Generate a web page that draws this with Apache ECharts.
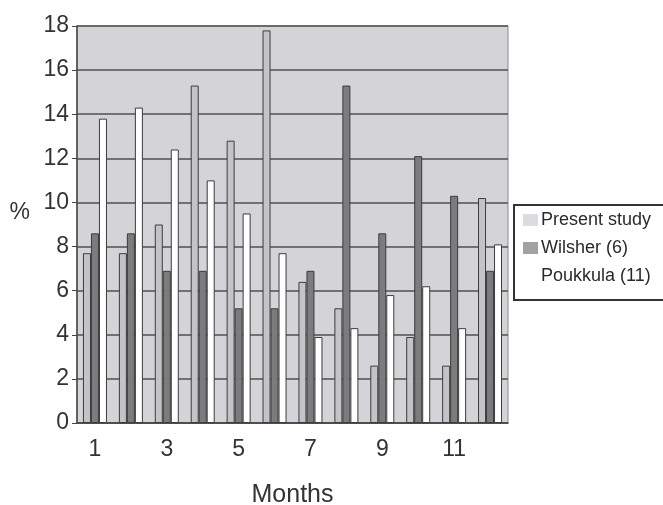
<!DOCTYPE html>
<html>
<head>
<meta charset="utf-8">
<script src="https://cdn.jsdelivr.net/npm/echarts@6/dist/echarts.min.js"></script>
<style>
  html, body { margin: 0; padding: 0; background: #fff; }
  #chart { width: 663px; height: 505px; }
</style>
</head>
<body>
<div id="chart"></div>
<script>
// Monthly percentages for each study
const months = ['1', '2', '3', '4', '5', '6', '7', '8', '9', '10', '11', '12'];
const presentStudy = [7.7, 7.7, 9.0, 15.3, 12.8, 17.8, 6.4, 5.2, 2.6, 3.9, 2.6, 10.2];
const wilsher = [8.6, 8.6, 6.9, 6.9, 5.2, 5.2, 6.9, 15.3, 8.6, 12.1, 10.3, 6.9];
const poukkula = [13.8, 14.3, 12.4, 11.0, 9.5, 7.7, 3.9, 4.3, 5.8, 6.2, 4.3, 8.1];
const yTicks = { min: 0, max: 18, step: 2 };

const seriesNames = ['Present study', 'Wilsher (6)', 'Poukkula (11)'];
const barColors = ['#c4c4c8', '#7c7c7e', '#ffffff'];
const swatchColors = ['#dcdce0', '#a2a2a4', '#ffffff'];
const seriesData = [presentStudy, wilsher, poukkula];

const font = 'Liberation Sans, Arial, sans-serif';
const chart = echarts.init(document.getElementById('chart'));

chart.setOption({
  animation: false,
  grid: {
    left: 77, right: 155, top: 26, bottom: 82,
    outerBoundsMode: 'none',
    containLabel: false,
    show: true,
    backgroundColor: '#d4d4d8',
    borderColor: '#8a8a8a',
    borderWidth: 1
  },
  legend: {
    orient: 'vertical',
    left: 514, top: 205,
    padding: [6, 40, 15, 9],
    itemGap: 10,
    itemWidth: 15,
    itemHeight: 12,
    borderColor: '#333',
    borderWidth: 2,
    textStyle: { fontFamily: font, fontSize: 18, color: '#2a2a2a', padding: [0, 0, 0, -2] },
    data: seriesNames.map((n, i) => ({
      name: n,
      icon: 'rect',
      itemStyle: { color: swatchColors[i], borderWidth: 0 }
    }))
  },
  xAxis: {
    type: 'category',
    data: months,
    name: 'Months',
    nameLocation: 'middle',
    nameGap: 60,
    nameTextStyle: { fontFamily: font, fontSize: 25, color: '#333' },
    axisLine: { lineStyle: { color: '#444', width: 1.5 } },
    axisTick: { length: 6, lineStyle: { color: '#444' } },
    axisLabel: { interval: 1, margin: 15, fontFamily: font, fontSize: 23, color: '#333' },
    splitLine: { show: false }
  },
  yAxis: {
    type: 'value',
    min: yTicks.min, max: yTicks.max, interval: yTicks.step,
    name: '%',
    nameLocation: 'middle',
    nameRotate: 0,
    nameGap: 47,
    nameTextStyle: { fontFamily: font, fontSize: 23, color: '#333', verticalAlign: 'bottom' },
    axisLine: { show: true, lineStyle: { color: '#444', width: 1.5 } },
    axisTick: { show: true, length: 5, lineStyle: { color: '#444' } },
    axisLabel: { margin: 8, fontFamily: font, fontSize: 23, color: '#333' },
    splitLine: { lineStyle: { color: '#505050', width: 1.5 } }
  },
  series: seriesNames.map((n, i) => ({
    name: n,
    type: 'bar',
    data: seriesData[i],
    barWidth: 8,
    barGap: '0%',
    itemStyle: { color: barColors[i], borderColor: '#3c3c3c', borderWidth: 1 }
  }))
});
</script>
</body>
</html>
